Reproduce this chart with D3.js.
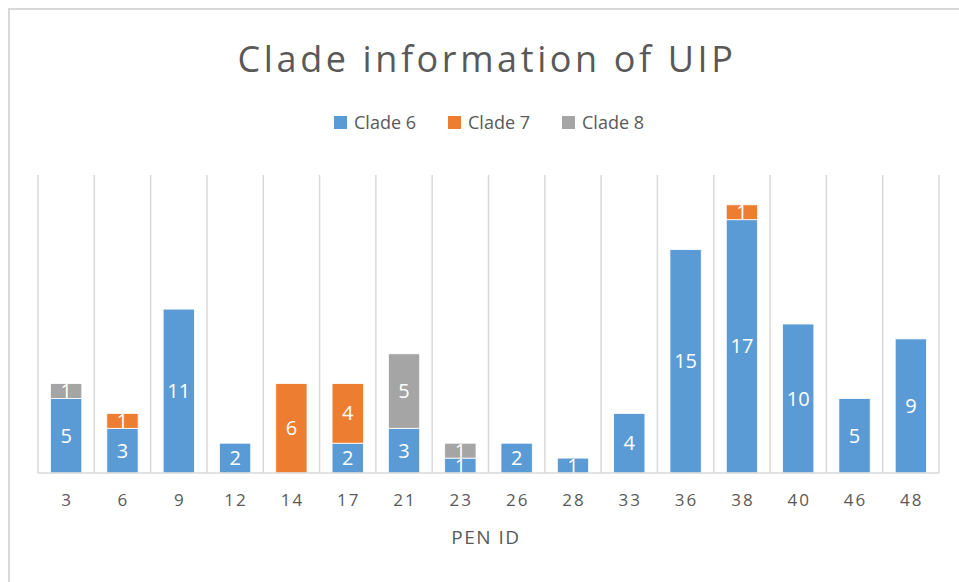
<!DOCTYPE html>
<html>
<head>
<meta charset="utf-8">
<script src="https://cdn.jsdelivr.net/npm/d3@7"></script>
<style>
  body { margin: 0; background: #fff; }
  svg text { font-family: "Open Sans", "Noto Sans", sans-serif; }
</style>
</head>
<body>
<div id="chart"></div>
<script>
// 데이터
const penIds = ["3", "6", "9", "12", "14", "17", "21", "23", "26", "28", "33", "36", "38", "40", "46", "48"];
const clade6 = [5, 3, 11, 2, 0, 2, 3, 1, 2, 1, 4, 15, 17, 10, 5, 9];
const clade7 = [0, 1, 0, 0, 6, 4, 0, 0, 0, 0, 0, 0, 1, 0, 0, 0];
const clade8 = [1, 0, 0, 0, 0, 0, 5, 1, 0, 0, 0, 0, 0, 0, 0, 0];
const seriesNames = ["Clade 6", "Clade 7", "Clade 8"];
const seriesColors = ["#5B9BD5", "#ED7D31", "#A5A5A5"];

const width = 959, height = 582;
const textColor = "#595959";
const gridColor = "#D9D9D9";

const svg = d3.select("#chart").append("svg")
    .attr("width", width)
    .attr("height", height);

// 차트 테두리
svg.append("rect")
    .attr("x", 9).attr("y", 9)
    .attr("width", 960).attr("height", 590)
    .attr("fill", "none")
    .attr("stroke", gridColor)
    .attr("stroke-width", 2);

// 제목
svg.append("text")
    .attr("x", 487).attr("y", 72)
    .attr("text-anchor", "middle")
    .attr("fill", textColor)
    .attr("font-size", 36)
    .attr("letter-spacing", 3.6)
    .text("Clade information of UIP");

// 스케일
const x = d3.scaleBand()
    .domain(penIds)
    .range([38, 939])
    .paddingInner(0.444)
    .paddingOuter(0.222);

const y = d3.scaleLinear()
    .domain([0, 20])
    .range([473, 175]);

// 스택 데이터
const rows = penIds.map((id, i) => ({ id: id, c6: clade6[i], c7: clade7[i], c8: clade8[i] }));
const stack = d3.stack().keys(["c6", "c7", "c8"]);
const stacked = stack(rows);

// 세로 그리드 (카테고리 경계)
const step = x.step();
const gridXs = d3.range(penIds.length + 1).map(i => x.range()[0] + i * step);
svg.append("g")
    .selectAll("line")
    .data(gridXs)
    .enter()
    .append("line")
    .attr("x1", d => d).attr("x2", d => d)
    .attr("y1", y(20)).attr("y2", y(0))
    .attr("stroke", gridColor)
    .attr("stroke-width", 1.5);

// 막대
const layer = svg.append("g")
    .selectAll("g")
    .data(stacked)
    .enter()
    .append("g")
    .attr("fill", (d, i) => seriesColors[i]);

layer.selectAll("rect")
    .data(d => d.filter(s => s[1] - s[0] > 0))
    .enter()
    .append("rect")
    .attr("x", d => x(d.data.id))
    .attr("y", d => y(d[1]))
    .attr("width", x.bandwidth())
    .attr("height", d => y(d[0]) - y(d[1]))
    .attr("stroke", "#fff")
    .attr("stroke-width", 0.8);

// 값 라벨
layer.selectAll("text")
    .data(d => d.filter(s => s[1] - s[0] > 0))
    .enter()
    .append("text")
    .attr("x", d => x(d.data.id) + x.bandwidth() / 2)
    .attr("y", d => (y(d[0]) + y(d[1])) / 2 + 7)
    .attr("text-anchor", "middle")
    .attr("fill", "#fff")
    .attr("font-size", 20)
    .text(d => d[1] - d[0]);

// x축 기준선
svg.append("line")
    .attr("x1", x.range()[0]).attr("x2", x.range()[1])
    .attr("y1", y(0)).attr("y2", y(0))
    .attr("stroke", gridColor)
    .attr("stroke-width", 1.5);

// x축 라벨
svg.append("g")
    .selectAll("text")
    .data(penIds)
    .enter()
    .append("text")
    .attr("x", d => x(d) + x.bandwidth() / 2 + 1)
    .attr("y", 506)
    .attr("text-anchor", "middle")
    .attr("fill", textColor)
    .attr("font-size", 17)
    .attr("letter-spacing", 2)
    .text(d => d);

svg.append("text")
    .attr("x", 486).attr("y", 544)
    .attr("text-anchor", "middle")
    .attr("fill", textColor)
    .attr("font-size", 19)
    .attr("letter-spacing", 1.5)
    .text("PEN ID");

// 범례
const legendX = [334, 448, 562];
const legend = svg.append("g")
    .selectAll("g")
    .data(seriesNames)
    .enter()
    .append("g")
    .attr("transform", (d, i) => `translate(${legendX[i]},116)`);

legend.append("rect")
    .attr("width", 13).attr("height", 13)
    .attr("fill", (d, i) => seriesColors[i]);

legend.append("text")
    .attr("x", 20).attr("y", 13)
    .attr("fill", textColor)
    .attr("font-size", 18)
    .text(d => d);
</script>
</body>
</html>
